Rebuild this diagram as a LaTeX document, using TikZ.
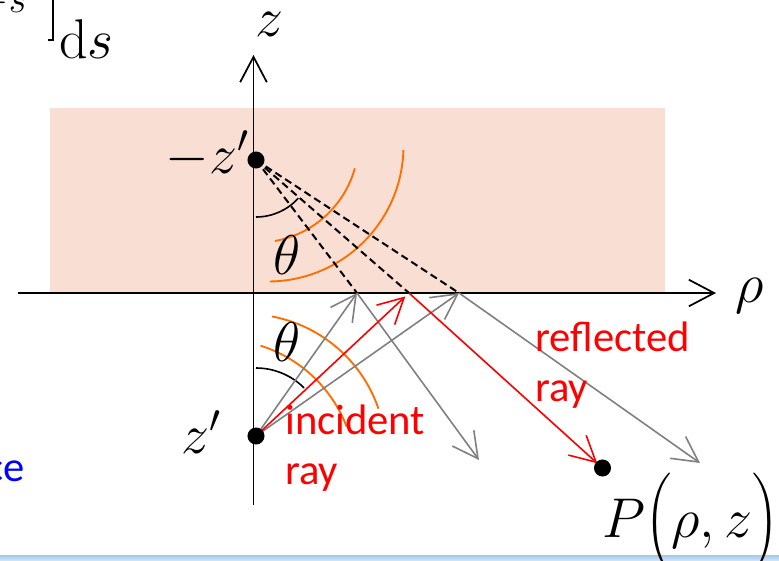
\documentclass[tikz,border=0pt]{standalone}
\usepackage{fix-cm}
\usepackage{exscale}
\usepackage{fontspec}
\newfontfamily\calfont{Carlito}
\usetikzlibrary{arrows.meta}
\definecolor{pinkbg}{RGB}{248,222,211}
\definecolor{orng}{RGB}{255,110,0}
\definecolor{raygray}{RGB}{128,128,128}
\definecolor{bandtop}{RGB}{160,200,234}
\definecolor{bandbot}{RGB}{214,232,246}
\begin{document}
\begin{tikzpicture}[x=0.75pt,y=-0.75pt,
  tip/.style={-{Straight Barb[length=19pt,width=20pt]}},
  axisline/.style={line width=1.3pt, tip},
  grayray/.style={draw=raygray, line width=1.2pt, tip},
  redray/.style={draw=red, line width=1.2pt, tip},
  dashray/.style={line width=1.5pt, dash pattern=on 5.5pt off 3.2pt},
  wave/.style={draw=orng, line width=1.4pt},
  anglearc/.style={line width=1.2pt},
  dot/.style={circle, fill=black, minimum size=12.8pt, inner sep=0pt},
  mathlbl/.style={font=\fontsize{42}{50}\selectfont, inner sep=0pt},
  redlbl/.style={text=red, font=\calfont\fontsize{32}{37}\selectfont, align=left, inner sep=0pt},
]
\useasboundingbox (0,0) rectangle (779,561);
% background
\fill[pinkbg] (50,108) rectangle (665,293);
\shade[top color=bandtop, bottom color=bandbot] (0,555) rectangle (779,561);

% points
\coordinate (zim) at (256,160);
\coordinate (zs) at (256,436);
\coordinate (A) at (357,293);
\coordinate (B) at (409,293);
\coordinate (C) at (459,293);
\coordinate (P) at (602.5,468);
\coordinate (Aend) at (479,460);
\coordinate (Cend) at (700,463);
\coordinate (xl) at (18,293);
\coordinate (xr) at (716,293);
\coordinate (yb) at (253.5,505);
\coordinate (yt) at (253.5,55);

% wavefronts
\draw[wave] (257,141) ++(15.6:101.6) arc[start angle=15.6, end angle=79.8, radius=101.6];
\draw[wave] (268,146) ++(1.7:135.5) arc[start angle=1.7, end angle=89.2, radius=135.5];
\draw[wave] (219.7,475.4) ++(-72.5:136) arc[start angle=-72.5, end angle=-21, radius=136];
\draw[wave] (246,454) ++(-79.3:140) arc[start angle=-79.3, end angle=-18.9, radius=140];

% image rays
\draw[dashray] (zim) -- (A);
\draw[dashray] (zim) -- (B);
\draw[dashray] (zim) -- (C);

% angle arcs
\draw[anglearc] (zim) ++(90:57) arc[start angle=90, end angle=42, radius=57];
\draw[anglearc] (zs) ++(-90:68) arc[start angle=-90, end angle=-45, radius=68];

% axes
\draw[axisline] (xl) -- (xr);
\draw[axisline] (yb) -- (yt);

% rays
\draw[grayray] (zs) -- (A);
\draw[grayray] (zs) -- (C);
\draw[grayray] (A) -- (Aend);
\draw[grayray] (C) -- (Cend);
\draw[redray, shorten >=3.75pt] (zs) -- (B);
\draw[redray, shorten >=5.25pt] (B) -- (P);

% dots
\node[dot] (zimdot) at (zim) {};
\node[dot] (zsdot) at (zs) {};
\node[dot] (Pdot) at (P) {};

% labels
\node[mathlbl, anchor=base west] (zlab) at (255,36) {$z$};
\node[mathlbl, anchor=base west] (rholab) at (735,302) {$\rho$};
\node[mathlbl, anchor=base east] (zimlab) at (249,173) {$-z'$};
\node[mathlbl, anchor=base east] (zslab) at (221,453) {$z'$};
\node[mathlbl] (th1) at (287,255) {$\theta$};
\node[mathlbl] (th2) at (287.5,342) {$\theta$};
\node[mathlbl, anchor=base west] (Plab) at (602,537) {$P\!\left(\vcenter{\hrule height 1.8em width 0pt}\rho,z\right)$};
\node[redlbl, anchor=base west] (inc) at (285,484) {incident\\ray};
\node[redlbl, anchor=base west] (refl) at (535,401) {reflected\\ray};
\node[text=blue, font=\calfont\fontsize{32}{36}\selectfont, anchor=base east, inner sep=0pt] (ce) at (25,481) {ce};

% fragment of formula at top left
\node[mathlbl, anchor=base west] (ds) at (59,58) {$\mathrm{d}s$};
\node[font=\fontsize{29}{35}\selectfont, anchor=base east, inner sep=0pt] (sup) at (27,12) {$-s$};
\draw[line width=1.1pt] (53,-2) -- (53,40) -- (48,40);
\end{tikzpicture}
\end{document}
